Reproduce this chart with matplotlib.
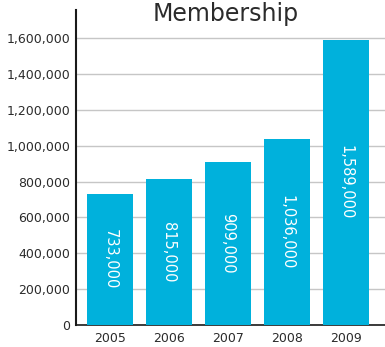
import numpy as np
import matplotlib.pyplot as plt
from matplotlib.ticker import FuncFormatter

# Membership totals per year
years = ["2005", "2006", "2007", "2008", "2009"]
members = [733000, 815000, 909000, 1036000, 1589000]
value_labels = ["733,000", "815,000", "909,000", "1,036,000", "1,589,000"]

bar_color = "#00b1dc"
text_color = "#2b2b2b"

fig = plt.figure(figsize=(3.85, 3.47), dpi=100)
ax = fig.add_axes([0.197, 0.0634, 0.803, 0.9076])

x = np.arange(len(years))
bars = ax.bar(x, members, width=0.78, color=bar_color, zorder=3)

# value written down the middle of each bar
for rect, label in zip(bars, value_labels):
    cx = rect.get_x() + rect.get_width() / 2
    cy = rect.get_height() / 2
    ax.text(cx, cy, label, rotation=-90, ha="center", va="center",
            color="white", fontsize=10.5, zorder=4)

ax.set_xlim(-0.576, 4.66)
ax.set_ylim(0, 1756000)
ax.set_xticks(x)
ax.set_xticklabels(years)
ax.set_yticks(np.arange(0, 1600001, 200000))
ax.yaxis.set_major_formatter(FuncFormatter(lambda v, p: f"{int(v):,}"))

ax.tick_params(axis="both", length=0, labelsize=9, colors=text_color)
ax.tick_params(axis="y", pad=4)
ax.tick_params(axis="x", pad=5)

ax.yaxis.grid(True, color="#c6c6c6", linewidth=1.0, zorder=0)
ax.set_axisbelow(True)

for side in ["top", "right"]:
    ax.spines[side].set_visible(False)
ax.spines["left"].set_color("#1a1a1a")
ax.spines["left"].set_linewidth(1.5)
ax.spines["bottom"].set_color("#1a1a1a")
ax.spines["bottom"].set_linewidth(1.2)

# title at the very top of the figure
fig.text(0.585, 0.995, "Membership", ha="center", va="top",
         fontsize=17, color=text_color)

fig.savefig("out.png", dpi=100)
